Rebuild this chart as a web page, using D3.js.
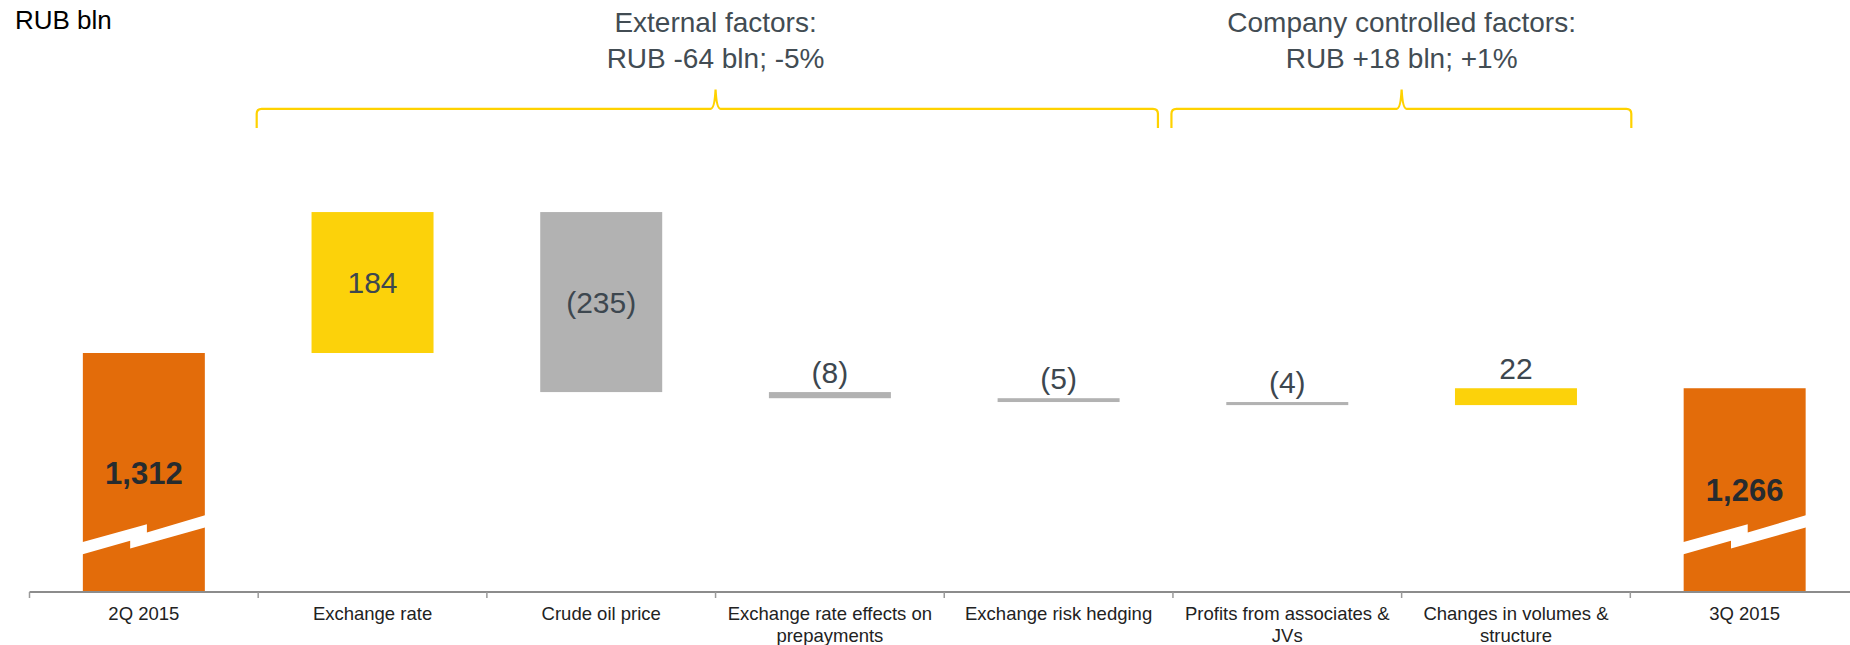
<!DOCTYPE html>
<html>
<head>
<meta charset="utf-8">
<script src="https://cdn.jsdelivr.net/npm/d3@7"></script>
<style>
  body { margin: 0; background: #fff; }
  svg { display: block; font-family: "Liberation Sans", Arial, sans-serif; }
</style>
</head>
<body>
<div class="chart"></div>
<script>
// waterfall: revenue bridge 2Q 2015 -> 3Q 2015
var categoryLines = [
  ["2Q 2015"],
  ["Exchange rate"],
  ["Crude oil price"],
  ["Exchange rate effects on", "prepayments"],
  ["Exchange risk hedging"],
  ["Profits from associates &", "JVs"],
  ["Changes in volumes &", "structure"],
  ["3Q 2015"]
];
var startTotal = 1312;
var endTotal = 1266;
var changes = [184, -235, -8, -5, -4, 22];

var groupTitles = [
  ["External factors:", "RUB -64 bln; -5%"],
  ["Company controlled factors:", "RUB +18 bln; +1%"]
];
var groupSpans = [[1, 4], [5, 6]];   // first and last category of each group

var svgWidth = 1850, svgHeight = 645;
var orange = "#e36c0a", yellow = "#fcd20a", grey = "#b2b2b2";

var svg = d3.select(".chart")
  .append("svg")
  .attr("width", svgWidth)
  .attr("height", svgHeight);

// build the waterfall rows
var rows = [];
var running = startTotal;
rows.push({ i: 0, y0: 1000, y1: startTotal, v: startTotal, total: true });
changes.forEach(function (c, k) {
  var from = running;
  running += c;
  rows.push({ i: k + 1, y0: Math.min(from, running), y1: Math.max(from, running), v: c, total: false });
});
rows.push({ i: rows.length, y0: 1000, y1: endTotal, v: endTotal, total: true });

var x = d3.scaleBand()
  .domain(d3.range(categoryLines.length))
  .range([29.5, 1859])
  .paddingInner(0.4666)
  .paddingOuter(0.2333);

var y = d3.scaleLinear()
  .domain([1000, 1500])
  .range([592, 209]);

var step = x.step();
function boundary(i) { return x.range()[0] + i * step; }

// bars
svg.selectAll(".bar")
  .data(rows)
  .enter()
  .append("rect")
  .attr("class", "bar")
  .attr("x", function (d) { return x(d.i); })
  .attr("width", x.bandwidth())
  .attr("y", function (d) { return y(d.y1); })
  .attr("height", function (d) { return Math.max(y(d.y0) - y(d.y1), 1); })
  .attr("fill", function (d) {
    if (d.total) return orange;
    return d.v > 0 ? yellow : grey;
  });

// axis break symbol on the totals
var cyBreak = y(1075);
svg.selectAll(".brk")
  .data(rows.filter(function (d) { return d.total; }))
  .enter()
  .append("path")
  .attr("class", "brk")
  .attr("fill", "#fff")
  .attr("d", function (d) {
    var x0 = x(d.i), w = x.bandwidth();
    var pts = [
      [-1, 7.6], [0.525 * w, -10.3], [0.525 * w, -2], [w + 1, -19.6],
      [w + 1, -7.3], [0.388 * w, 14], [0.388 * w, 6.3], [-1, 20]
    ];
    return "M" + pts.map(function (p) { return (x0 + p[0]) + "," + (cyBreak + p[1]); }).join("L") + "Z";
  });

// value labels
var fmt = d3.format(",");
svg.selectAll(".val")
  .data(rows)
  .enter()
  .append("text")
  .attr("class", "val")
  .attr("text-anchor", "middle")
  .attr("x", function (d) { return x(d.i) + x.bandwidth() / 2; })
  .attr("y", function (d) {
    var top = y(d.y1), bot = y(d.y0);
    if (d.total || bot - top > 40) return (top + bot) / 2;
    return top - 9;
  })
  .attr("dy", function (d) {
    var h = y(d.y0) - y(d.y1);
    return (d.total || h > 40) ? "0.36em" : "0";
  })
  .attr("font-size", function (d) { return d.total ? 31 : 30; })
  .attr("font-weight", function (d) { return d.total ? "bold" : "normal"; })
  .attr("fill", function (d) { return d.total ? "#262b2f" : "#3d474f"; })
  .text(function (d) {
    if (d.total) return fmt(d.v);
    return d.v < 0 ? "(" + fmt(-d.v) + ")" : fmt(d.v);
  });

// x axis line, boundary ticks, labels
var axisY = y(1000);
svg.append("line")
  .attr("x1", boundary(0)).attr("x2", boundary(categoryLines.length))
  .attr("y1", axisY).attr("y2", axisY)
  .attr("stroke", "#8c8c8c").attr("stroke-width", 2);

svg.selectAll(".tick")
  .data(d3.range(categoryLines.length + 1))
  .enter()
  .append("line")
  .attr("class", "tick")
  .attr("x1", function (i) { return boundary(i); })
  .attr("x2", function (i) { return boundary(i); })
  .attr("y1", axisY).attr("y2", axisY + 6)
  .attr("stroke", "#9a9a9a").attr("stroke-width", 1.5);

var labels = svg.selectAll(".xlab")
  .data(categoryLines)
  .enter()
  .append("text")
  .attr("class", "xlab")
  .attr("text-anchor", "middle")
  .attr("font-size", 18.5)
  .attr("fill", "#222");
labels.selectAll("tspan")
  .data(function (d, i) { return d.map(function (t) { return { t: t, i: i }; }); })
  .enter()
  .append("tspan")
  .attr("x", function (d) { return x(d.i) + x.bandwidth() / 2; })
  .attr("y", function (d, k) { return 620 + k * 21.5; })
  .text(function (d) { return d.t; });

// unit label
svg.append("text")
  .attr("x", 15).attr("y", 29.3)
  .attr("font-size", 26)
  .attr("fill", "#000")
  .text("RUB bln");

// group braces
var braceY = 108.8, braceEnd = 128, peakY = 89.5;
groupSpans.forEach(function (span, g) {
  var xa = boundary(span[0]) - 1.5;
  var xb = boundary(span[1] + 1) + (g < groupSpans.length - 1 ? -15 : 1);
  var xm = boundary((span[0] + span[1] + 1) / 2);
  var p = d3.path();
  p.moveTo(xa, braceEnd);
  p.lineTo(xa, braceY + 5);
  p.quadraticCurveTo(xa, braceY, xa + 5, braceY);
  p.lineTo(xm - 5, braceY);
  p.quadraticCurveTo(xm - 1, braceY, xm, peakY);
  p.quadraticCurveTo(xm + 1, braceY, xm + 5, braceY);
  p.lineTo(xb - 5, braceY);
  p.quadraticCurveTo(xb, braceY, xb, braceY + 5);
  p.lineTo(xb, braceEnd);
  svg.append("path")
    .attr("d", p.toString())
    .attr("fill", "none")
    .attr("stroke", "#ffd200")
    .attr("stroke-width", 2.2);

  var t = svg.append("text")
    .attr("text-anchor", "middle")
    .attr("font-size", 28)
    .attr("fill", "#424c53");
  groupTitles[g].forEach(function (line, k) {
    t.append("tspan")
      .attr("x", xm)
      .attr("y", 32.3 + k * 36)
      .text(line);
  });
});
</script>
</body>
</html>
